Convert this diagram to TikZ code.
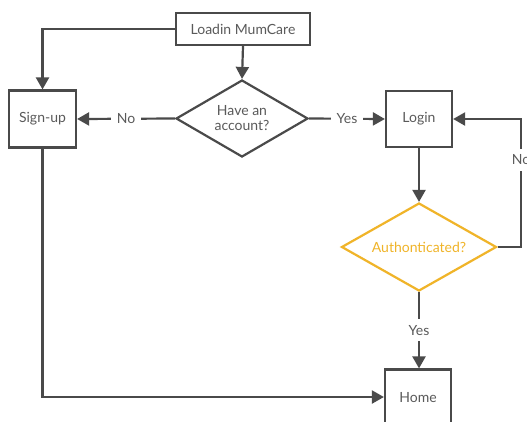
\documentclass[tikz,border=0pt]{standalone}
\usepackage{fontspec}
\setmainfont{Lato}
\usetikzlibrary{arrows.meta,shapes.geometric}
\definecolor{ln}{HTML}{4A4A4A}
\definecolor{tx}{HTML}{5A5A5A}
\definecolor{yl}{HTML}{F0B429}
\begin{document}
\begin{tikzpicture}[x=1pt,y=-1pt,
  box/.style={draw=ln,line width=2.2pt,text=tx,font=\fontsize{14}{16}\selectfont,inner sep=0pt},
  dia/.style={draw=ln,line width=2.2pt,text=tx,font=\fontsize{14}{16}\selectfont,diamond,inner sep=0pt,align=center},
  conn/.style={draw=ln,line width=2.2pt,-{Triangle[width=13pt,length=12pt]}},
  lbl/.style={fill=white,text=tx,font=\fontsize{14}{16}\selectfont,inner xsep=6pt,inner ysep=6pt}]
\useasboundingbox (0,0) rectangle (527,421);
\fill[white] (0,0) rectangle (527,421);
\node[box,minimum width=134pt,minimum height=32pt] (load) at (243,29) {Loadin MumCare};
\node[box,minimum width=67pt,minimum height=57pt] (sign) at (42.5,119) {Sign-up};
\node[dia,minimum width=132pt,minimum height=77pt,aspect=1.7] (acc) at (242,118.5) {Have an\\[-1pt]account?};
\node[box,minimum width=66pt,minimum height=56pt] (login) at (419,119) {Login};
\node[dia,draw=yl,text=yl,minimum width=155pt,minimum height=88pt,aspect=1.76] (auth) at (419,247) {Authonticated?};
\node[box,minimum width=66pt,minimum height=57pt] (home) at (418,398) {Home};
\coordinate (c1) at (42.5,29);
\coordinate (c2) at (521,247);
\coordinate (c3) at (521,119);
\coordinate (c4) at (42.5,397);
\draw[conn] (load.west) -- (c1) -- (sign.north);
\draw[conn] (load.south) -- (acc.north);
\draw[conn] (acc.west) -- node[lbl] {No} (sign.east);
\draw[conn] (acc.east) -- node[lbl] {Yes} (login.west);
\draw[conn] (login.south) -- (auth.north);
\draw[conn] (auth.east) -- (c2) -- node[lbl,pos=0.68] {No} (c3) -- (login.east);
\draw[conn] (auth.south) -- node[lbl] {Yes} (auth.south |- home.north);
\draw[conn] (sign.south) -- (c4) -- (home.west |- c4);
\end{tikzpicture}
\end{document}
